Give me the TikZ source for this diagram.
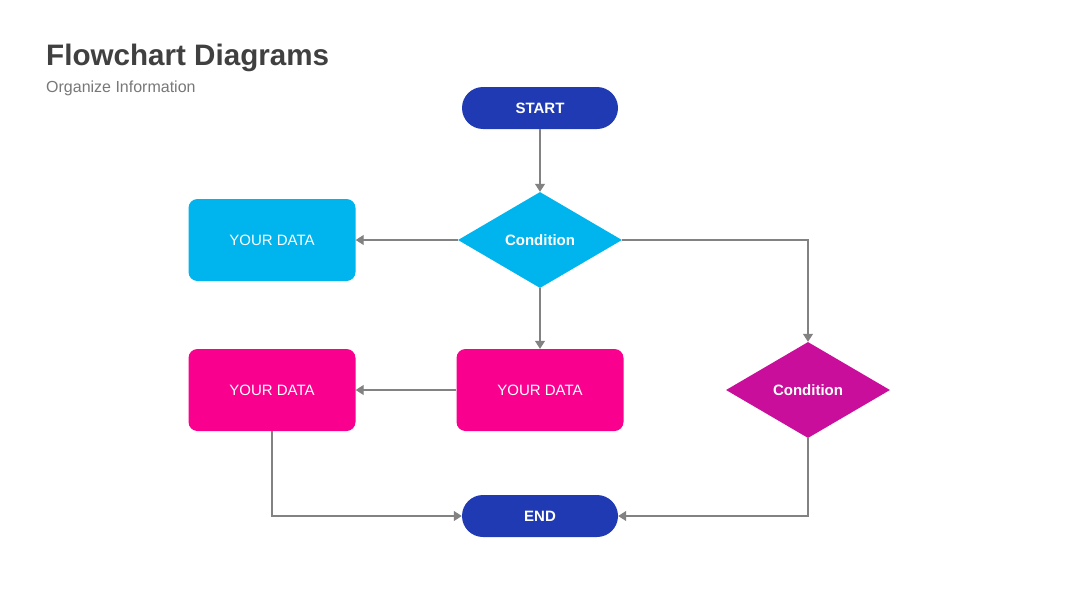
\documentclass[tikz,border=0pt]{standalone}
\usepackage{fontspec}
\setmainfont{Liberation Sans}
\usetikzlibrary{shapes.geometric,arrows.meta}
\definecolor{navy}{RGB}{32,58,180}
\definecolor{cyanbox}{RGB}{0,180,238}
\definecolor{pinkbox}{RGB}{250,0,143}
\definecolor{purplebox}{RGB}{200,14,154}
\definecolor{linegray}{RGB}{130,130,130}
\definecolor{titlegray}{RGB}{64,64,64}
\definecolor{subgray}{RGB}{120,120,120}
\tikzset{
  lbl/.style={text=white,font=\fontsize{15}{18}\selectfont},
  pill/.style={draw=none,fill=navy,rounded corners=21pt,minimum width=156pt,minimum height=42pt,inner sep=0pt,text=white,font=\bfseries\fontsize{15}{18}\selectfont},
  databox/.style={draw=none,rounded corners=9pt,minimum width=167pt,minimum height=82pt,inner sep=0pt,lbl},
  cond/.style={diamond,draw=none,minimum width=164pt,minimum height=96pt,inner sep=0pt,aspect=1.7,text=white,font=\bfseries\fontsize{15}{18}\selectfont},
  conn/.style={draw=linegray,line width=1.2pt,-{Triangle[width=10pt,length=8pt]}},
}
\begin{document}
\begin{tikzpicture}[x=1pt,y=1pt]
\useasboundingbox (0,0) rectangle (1080,-608);
\fill[white] (0,0) rectangle (1080,-608);
\node[anchor=base west,inner sep=0pt,text=titlegray,font=\bfseries\fontsize{29.6}{36}\selectfont] (title) at (46,-65) {Flowchart Diagrams};
\node[anchor=base west,inner sep=0pt,text=subgray,font=\fontsize{16}{19}\selectfont] (sub) at (46,-92) {Organize Information};

\node[pill] (start) at (540,-108) {START};
\node[cond,fill=cyanbox] (c1) at (540,-240) {Condition};
\node[databox,fill=cyanbox] (d1) at (272,-240) {YOUR DATA};
\node[databox,fill=pinkbox] (d2) at (272,-390) {YOUR DATA};
\node[databox,fill=pinkbox] (d3) at (540,-390) {YOUR DATA};
\node[cond,fill=purplebox] (c2) at (808,-390) {Condition};
\node[pill] (end) at (540,-516) {END};

\draw[conn] (start) -- (c1);
\draw[conn] (c1.west) -- (d1.east);
\draw[conn] (c1.east) -| (c2.north);
\draw[conn] (c1.south) -- (d3.north);
\draw[conn] (d3.west) -- (d2.east);
\draw[conn] (d2.south) |- (end.west);
\draw[conn] (c2.south) |- (end.east);
\end{tikzpicture}
\end{document}
